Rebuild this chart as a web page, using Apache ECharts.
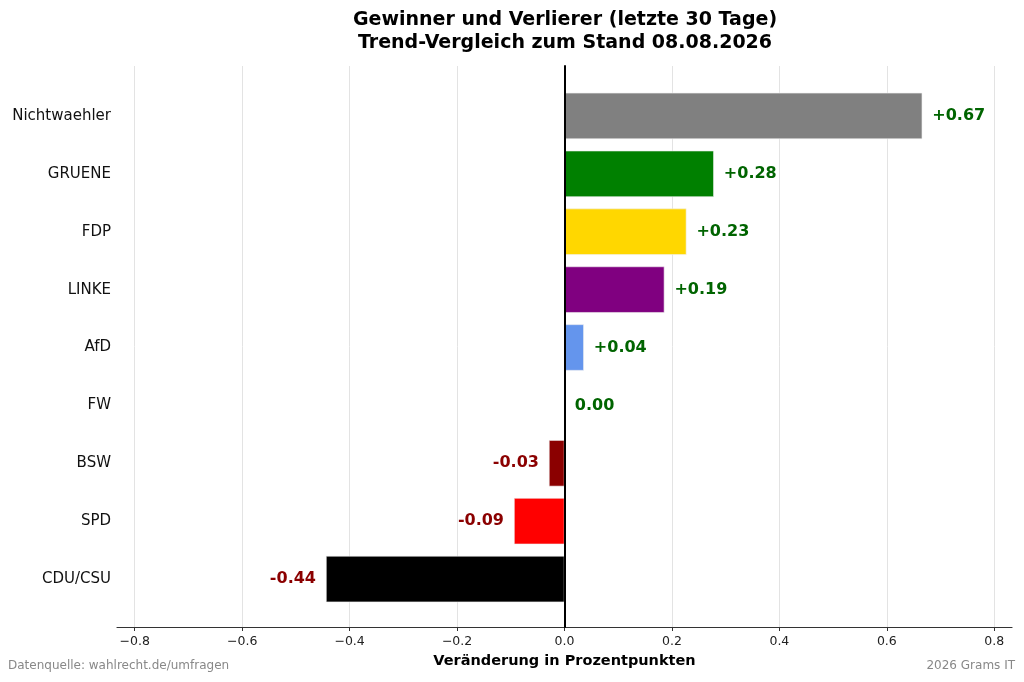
<!DOCTYPE html>
<html>
<head>
<meta charset="utf-8">
<title>Gewinner und Verlierer</title>
<script src="https://cdn.jsdelivr.net/npm/echarts@6/dist/echarts.min.js"></script>
<style>
  html, body { margin: 0; padding: 0; background: #fff; }
  #chart { width: 1024px; height: 682px; }
</style>
</head>
<body>
<div id="chart"></div>
<script>
// Daten (von oben nach unten)
var parteien = ['Nichtwaehler', 'GRUENE', 'FDP', 'LINKE', 'AfD', 'FW', 'BSW', 'SPD', 'CDU/CSU'];
var veraenderung = [0.666, 0.278, 0.227, 0.186, 0.036, 0.0, -0.029, -0.094, -0.444];
var farben = ['#808080', '#008000', '#FFD700', '#800080', '#6495ED', '#A0A0A0', '#8B0000', '#FF0000', '#000000'];
var xTicks = [-0.8, -0.6, -0.4, -0.2, 0.0, 0.2, 0.4, 0.6, 0.8];

var FONT = 'DejaVu Sans';
var xMin = -0.833, xMax = 0.833;

function fmtWert(v) {
    return (v > 0 ? '+' : '') + v.toFixed(2);
}

var chart = echarts.init(document.getElementById('chart'));

var option = {
    animation: false,
    backgroundColor: '#fff',
    title: {
        text: 'Gewinner und Verlierer (letzte 30 Tage)\nTrend-Vergleich zum Stand 08.08.2026',
        left: 560,
        textAlign: 'center',
        top: 4,
        textStyle: {
            fontFamily: FONT,
            fontSize: 19,
            fontWeight: 'bold',
            color: '#000',
            lineHeight: 23
        }
    },
    graphic: [
        {
            type: 'text', left: 8, top: 660,
            style: { text: 'Datenquelle: wahlrecht.de/umfragen', fill: '#888', font: '12px "DejaVu Sans"' }
        },
        {
            type: 'text', right: 9, top: 660,
            style: { text: '2026 Grams IT', fill: '#888', font: '12px "DejaVu Sans"' }
        }
    ],
    grid: [
        // Rahmen: Gitter, x-Achse, Nulllinie
        { left: 117, right: 12, top: 66, bottom: 55 },
        // Balken
        { left: 117, right: 12, top: 87, bottom: 74 }
    ],
    xAxis: [
        {
            gridIndex: 0,
            type: 'value',
            min: xMin,
            max: xMax,
            name: 'Veränderung in Prozentpunkten',
            nameLocation: 'middle',
            nameGap: 27,
            nameTextStyle: { fontFamily: FONT, fontSize: 14.5, fontWeight: 'bold', color: '#000' },
            axisLine: { onZero: false, lineStyle: { color: '#333', width: 1.2 } },
            axisTick: { show: true, length: 4, customValues: xTicks, lineStyle: { color: '#333' } },
            axisLabel: {
                customValues: xTicks,
                fontFamily: FONT,
                fontSize: 12.5,
                color: '#222',
                margin: 8,
                formatter: function (v) {
                    return (v < -1e-9 ? '\u2212' : '') + Math.abs(v).toFixed(1);
                }
            },
            splitLine: { show: true, lineStyle: { color: '#e3e3e3', width: 1 } }
        },
        {
            gridIndex: 1,
            type: 'value',
            min: xMin,
            max: xMax,
            show: false
        }
    ],
    yAxis: [
        {
            gridIndex: 0,
            type: 'value',
            min: 0,
            max: 1,
            z: 10,
            axisLine: { show: true, onZero: true, lineStyle: { color: '#000', width: 2 } },
            axisTick: { show: false },
            axisLabel: { show: false },
            splitLine: { show: false }
        },
        {
            gridIndex: 1,
            type: 'category',
            inverse: true,
            data: parteien,
            axisLine: { show: false },
            axisTick: { show: false },
            axisLabel: { fontFamily: FONT, fontSize: 15, color: '#111', margin: 6 }
        }
    ],
    series: [
        {
            type: 'bar',
            xAxisIndex: 1,
            yAxisIndex: 1,
            barWidth: '80%',
            data: veraenderung.map(function (v, i) {
                return {
                    value: v,
                    itemStyle: { color: farben[i], borderColor: '#f0f0f0', borderWidth: 0.6 },
                    label: {
                        show: true,
                        position: v < 0 ? 'left' : 'right',
                        distance: 10,
                        formatter: fmtWert(v),
                        fontFamily: FONT,
                        fontSize: 16,
                        fontWeight: 'bold',
                        color: v < 0 ? '#8B0000' : '#006400'
                    }
                };
            })
        }
    ]
};

chart.setOption(option);
</script>
</body>
</html>
